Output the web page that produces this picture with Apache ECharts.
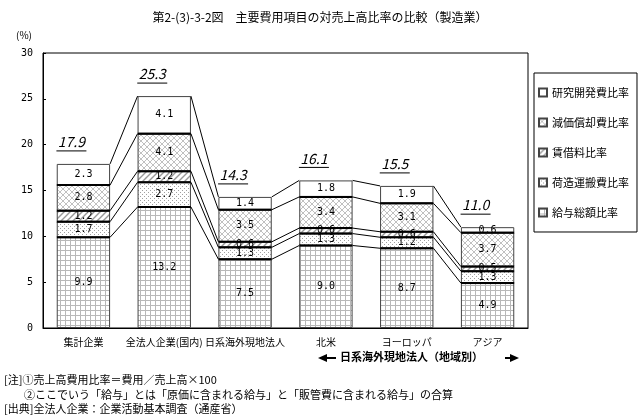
<!DOCTYPE html>
<html>
<head>
<meta charset="utf-8">
<script src="https://cdn.jsdelivr.net/npm/echarts@6/dist/echarts.min.js"></script>
<style>
  html, body { margin: 0; padding: 0; background: #fff; }
  #myChart { width: 640px; height: 417px; }
</style>
</head>
<body>
<div id="myChart"></div>
<script>
// カテゴリ
var categories = ['集計企業', '全法人企業(国内)', '日系海外現地法人', '北米', 'ヨーロッパ', 'アジア'];
// 各費用項目（売上高比 %）
var kyuyo   = [9.9, 13.2, 7.5, 9.0, 8.7, 4.9];   // 給与総額比率
var nizukuri = [1.7, 2.7, 1.3, 1.3, 1.2, 1.3];   // 荷造運搬費比率
var chinshaku = [1.2, 1.2, 0.6, 0.6, 0.6, 0.5];  // 賃借料比率
var genka   = [2.8, 4.1, 3.5, 3.4, 3.1, 3.7];    // 減価償却費比率
var kenkyu  = [2.3, 4.1, 1.4, 1.8, 1.9, 0.6];    // 研究開発費比率
var totals  = ['17.9', '25.3', '14.3', '16.1', '15.5', '11.0'];
var yTicks  = [0, 5, 10, 15, 20, 25, 30];

var seriesNames = ['給与総額比率', '荷造運搬費比率', '賃借料比率', '減価償却費比率', '研究開発費比率'];
var seriesData = [kyuyo, nizukuri, chinshaku, genka, kenkyu];

var FONT = '"Noto Sans CJK JP", sans-serif';

// 模様
function makePattern(type) {
    var c = document.createElement('canvas');
    var s = type === 'grid' ? 5 : (type === 'dot' ? 4 : 6);
    c.width = s; c.height = s;
    var ctx = c.getContext('2d');
    ctx.fillStyle = '#fff';
    ctx.fillRect(0, 0, s, s);
    ctx.lineWidth = 1;
    if (type === 'grid') {
        ctx.strokeStyle = '#b8b8b8';
        ctx.beginPath();
        ctx.moveTo(0, 0.5); ctx.lineTo(s, 0.5);
        ctx.moveTo(0.5, 0); ctx.lineTo(0.5, s);
        ctx.stroke();
    } else if (type === 'dot') {
        ctx.fillStyle = '#a0a0a0';
        ctx.fillRect(0, 0, 1, 1);
        ctx.fillRect(2, 2, 1, 1);
    } else if (type === 'diag') {
        ctx.strokeStyle = '#999';
        ctx.lineWidth = 1.4;
        ctx.beginPath();
        ctx.moveTo(0, s); ctx.lineTo(s, 0);
        ctx.moveTo(-1, 1); ctx.lineTo(1, -1);
        ctx.moveTo(s - 1, s + 1); ctx.lineTo(s + 1, s - 1);
        ctx.stroke();
    } else if (type === 'cross') {
        ctx.strokeStyle = '#c0c0c0';
        ctx.beginPath();
        ctx.moveTo(0, s); ctx.lineTo(s, 0);
        ctx.moveTo(0, 0); ctx.lineTo(s, s);
        ctx.stroke();
    }
    return { image: c, repeat: 'repeat' };
}
var patterns = [makePattern('grid'), makePattern('dot'), makePattern('diag'), makePattern('cross'), '#fff'];

// 累積値
function cumAt(i, k) {
    var v = 0;
    for (var j = 0; j <= k; j++) { v += seriesData[j][i]; }
    return Math.round(v * 10) / 10;
}

var BAR_RATIO = 0.66;

function renderOverlay(params, api) {
    var i = params.dataIndex;
    var band = api.size([1, 0])[0];
    var half = band * BAR_RATIO / 2;
    var children = [];
    // 区切り線（太線）
    for (var k = 0; k < 4; k++) {
        var p = api.coord([i, cumAt(i, k)]);
        children.push({
            type: 'line',
            shape: { x1: p[0] - half, y1: p[1], x2: p[0] + half, y2: p[1] },
            style: { stroke: '#000', lineWidth: 2 }
        });
    }
    // 隣の棒への接続線
    if (i < categories.length - 1) {
        for (var k2 = 0; k2 < 5; k2++) {
            var a = api.coord([i, cumAt(i, k2)]);
            var b = api.coord([i + 1, cumAt(i + 1, k2)]);
            children.push({
                type: 'line',
                shape: { x1: a[0] + half, y1: a[1], x2: b[0] - half, y2: b[1] },
                style: { stroke: '#000', lineWidth: 1 }
            });
        }
    }
    // 合計ラベル（下線付き）
    var top = api.coord([i, cumAt(i, 4)]);
    var tx = top[0] - 12;
    var ty = top[1] - 22;
    children.push({
        type: 'text',
        style: {
            text: totals[i], x: tx, y: ty,
            align: 'center', verticalAlign: 'middle',
            font: 'italic 14px ' + FONT, fill: '#000'
        }
    });
    children.push({
        type: 'line',
        shape: { x1: tx - 15, y1: ty + 9, x2: tx + 15, y2: ty + 9 },
        style: { stroke: '#000', lineWidth: 1 }
    });
    return { type: 'group', children: children };
}

var series = [];
for (var s = 0; s < seriesNames.length; s++) {
    series.push({
        name: seriesNames[s],
        type: 'bar',
        stack: 'total',
        barWidth: (BAR_RATIO * 100) + '%',
        data: seriesData[s],
        itemStyle: { color: patterns[s], borderColor: '#444', borderWidth: 1 },
        label: {
            show: true, position: 'inside', color: '#000',
            fontSize: 10, fontFamily: '"DejaVu Sans Mono", monospace',
            formatter: function (p) { return p.value.toFixed(1); }
        },
        emphasis: { disabled: true }
    });
}
series.push({
    type: 'custom',
    renderItem: renderOverlay,
    data: categories.map(function (c, i) { return [i, 0]; }),
    clip: false,
    z: 5,
    silent: true
});

var chart = echarts.init(document.getElementById('myChart'));
chart.setOption({
    animation: false,
    backgroundColor: '#fff',
    textStyle: { fontFamily: FONT },
    grid: {
        left: 43, right: 112, top: 53, bottom: 89,
        show: true, borderColor: '#000', borderWidth: 1
    },
    legend: {
        data: seriesNames.slice().reverse(),
        orient: 'vertical',
        left: 534, top: 73,
        itemWidth: 8, itemHeight: 8, itemGap: 19,
        padding: [14, 8, 14, 4],
        borderColor: '#000', borderWidth: 1,
        icon: 'rect',
        textStyle: { fontSize: 11, color: '#000', fontFamily: FONT },
        selectedMode: false
    },
    xAxis: {
        type: 'category',
        data: categories,
        axisLine: { lineStyle: { color: '#000' } },
        axisTick: { inside: true, length: 3, lineStyle: { color: '#000' } },
        axisLabel: { color: '#000', fontSize: 10, margin: 9, interval: 0, fontFamily: FONT }
    },
    yAxis: {
        type: 'value',
        min: yTicks[0], max: yTicks[yTicks.length - 1], interval: 5,
        axisLine: { show: true, lineStyle: { color: '#000' } },
        axisTick: { show: true, inside: true, length: 3, lineStyle: { color: '#000' } },
        axisLabel: { color: '#000', fontSize: 10, margin: 10, fontFamily: '"DejaVu Sans Mono", monospace' },
        splitLine: { show: false }
    },
    graphic: [
        { type: 'text', left: 'center', top: 11,
          style: { text: '第2-(3)-3-2図　主要費用項目の対売上高比率の比較（製造業）', font: '12px ' + FONT, fill: '#000' } },
        { type: 'text', left: 16, top: 30,
          style: { text: '(%)', font: '10px ' + FONT, fill: '#000' } },
        // 地域別矢印
        { type: 'line', shape: { x1: 324, y1: 358, x2: 336, y2: 358 }, style: { stroke: '#000', lineWidth: 2 } },
        { type: 'polygon', shape: { points: [[318, 358], [327, 354], [327, 362]] }, style: { fill: '#000' } },
        { type: 'text', left: 340, top: 351,
          style: { text: '日系海外現地法人（地域別）', font: 'bold 11px ' + FONT, fill: '#000' } },
        { type: 'line', shape: { x1: 505, y1: 358, x2: 513, y2: 358 }, style: { stroke: '#000', lineWidth: 2 } },
        { type: 'polygon', shape: { points: [[519, 358], [510, 354], [510, 362]] }, style: { fill: '#000' } },
        // 注記
        { type: 'text', left: 4, top: 374,
          style: { text: '[注]①売上高費用比率＝費用／売上高×100', font: '11px ' + FONT, fill: '#000' } },
        { type: 'text', left: 24, top: 389,
          style: { text: '②ここでいう「給与」とは「原価に含まれる給与」と「販管費に含まれる給与」の合算', font: '11px ' + FONT, fill: '#000' } },
        { type: 'text', left: 4, top: 403,
          style: { text: '[出典]全法人企業：企業活動基本調査（通産省）', font: '11px ' + FONT, fill: '#000' } }
    ],
    series: series
});
</script>
</body>
</html>
